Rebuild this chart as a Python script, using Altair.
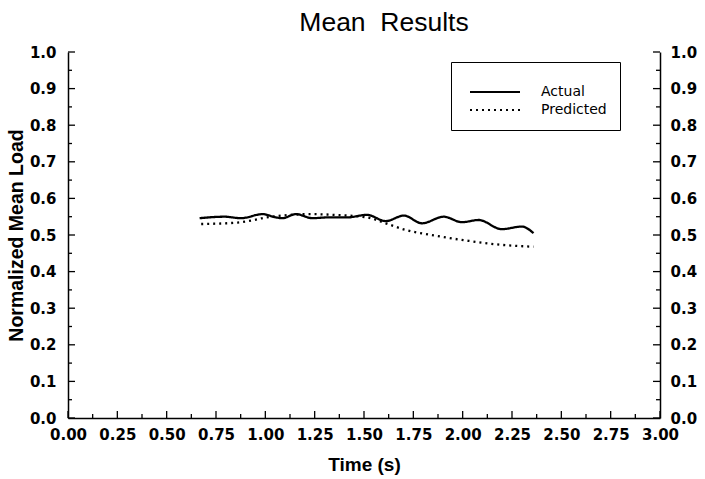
import altair as alt
import pandas as pd

# Data
actual_t = [0.667, 0.793, 0.877, 0.986, 1.054, 1.086, 1.155, 1.239, 1.313, 1.414,
            1.515, 1.610, 1.702, 1.794, 1.904, 1.996, 2.081, 2.198, 2.300, 2.359]
actual_v = [0.546, 0.550, 0.546, 0.557, 0.548, 0.546, 0.557, 0.546, 0.548, 0.548,
            0.555, 0.538, 0.553, 0.532, 0.550, 0.535, 0.541, 0.516, 0.523, 0.505]
pred_t = [0.675, 0.860, 0.944, 0.995, 1.231, 1.348, 1.515, 1.610, 1.710, 1.862,
          2.030, 2.198, 2.359]
pred_v = [0.530, 0.534, 0.541, 0.547, 0.557, 0.555, 0.548, 0.532, 0.514, 0.498,
          0.484, 0.473, 0.468]

x_major = [i * 0.25 for i in range(13)]
x_minor = [0.125 + i * 0.25 for i in range(12)]
y_major = [i / 10 for i in range(11)]
y_minor = [0.05 + i / 10 for i in range(10)]

series_names = ["Actual", "Predicted"]

df = pd.DataFrame(
    {"time": actual_t + pred_t,
     "load": actual_v + pred_v,
     "series": [series_names[0]] * len(actual_t) + [series_names[1]] * len(pred_t)}
)

W, H = 592, 366
TICK_FONT = "DejaVu Sans"
X_SCALE = alt.Scale(domain=[0, 3], nice=False, zero=False)
Y_SCALE = alt.Scale(domain=[0, 1], nice=False)

x_axis = alt.Axis(
    values=x_major, format=".2f", labelOverlap=False, labelFlush=False, ticks=False,
    labelPadding=9,
    labelFont=TICK_FONT, labelFontWeight="bold", labelFontSize=15, labelColor="black",
    title="Time (s)", titleFont="Liberation Sans", titleFontSize=19, titleFontWeight="bold",
    titleColor="black", titlePadding=13,
    grid=False, domainColor="black", domainWidth=1.5,
)

y_left_axis = alt.Axis(
    orient="left", values=y_major, format=".1f", labelOverlap=False, ticks=False,
    labelPadding=12,
    labelFont=TICK_FONT, labelFontWeight="bold", labelFontSize=15, labelColor="black",
    title="Normalized Mean Load", titleFont="Liberation Sans", titleFontSize=19.5,
    titleFontWeight="bold", titleColor="black", titlePadding=3,
    grid=False, domainColor="black", domainWidth=1.5,
)

y_right_axis = alt.Axis(
    orient="right", values=y_major, format=".1f", labelOverlap=False, ticks=False,
    labelPadding=10,
    labelFont=TICK_FONT, labelFontWeight="bold", labelFontSize=15, labelColor="black",
    title=None, grid=False, domainColor="black", domainWidth=1.5,
)

lines = alt.Chart(df).mark_line(interpolate="monotone", strokeWidth=2.3, color="black").encode(
    x=alt.X("time:Q", scale=X_SCALE, axis=x_axis, title="Time (s)"),
    y=alt.Y("load:Q", scale=Y_SCALE, axis=y_left_axis),
    strokeDash=alt.StrokeDash(
        "series:N",
        scale=alt.Scale(domain=series_names, range=[[1, 0], [2, 4]]),
        legend=alt.Legend(
            title="\u00a0", titleFontSize=5, titlePadding=5,
            orient="none", legendX=383, legendY=10,
            symbolType="M-0.2,0H9.8", symbolSize=100, symbolStrokeWidth=2,
            symbolStrokeColor="black", symbolFillColor="transparent",
            labelFont=TICK_FONT, labelFontSize=14,
            labelColor="black", labelOffset=63, rowPadding=4, padding=13,
            strokeColor="black",
        ),
    ),
    detail="series:N",
)

right = alt.Chart(df).mark_line(opacity=0).encode(
    x=alt.X("time:Q", scale=X_SCALE, axis=x_axis, title="Time (s)"),
    y=alt.Y("load:Q", scale=Y_SCALE, axis=y_right_axis),
    detail="series:N",
)

# inward tick marks, placed through the scales
def x_ticks(vals, length):
    return alt.Chart(pd.DataFrame({"time": vals})).mark_rule(color="black", strokeWidth=1.3).encode(
        x=alt.X("time:Q", scale=X_SCALE, axis=x_axis, title="Time (s)"),
        y=alt.value(H), y2=alt.value(H - length))

def y_ticks(vals, x0, x1):
    return alt.Chart(pd.DataFrame({"v": vals})).mark_rule(color="black", strokeWidth=1.3).encode(
        y=alt.Y("v:Q", scale=Y_SCALE, axis=None), x=alt.value(x0), x2=alt.value(x1))

ticks = [
    x_ticks(x_major, 7), x_ticks(x_minor, 4),
    y_ticks(y_major, 0, 7), y_ticks(y_minor, 0, 4),
    y_ticks(y_major, W, W - 7), y_ticks(y_minor, W, W - 4),
]

chart = alt.layer(lines, right, *ticks).resolve_scale(y="independent").properties(
    width=W,
    height=H,
    background="white",
    title=alt.TitleParams("Mean\u00a0 Results", font="Liberation Sans", fontSize=26.5,
                          fontWeight="normal", color="black", anchor="middle",
                          dx=20, offset=9),
    autosize=alt.AutoSizeParams(type="none"),
    padding={"left": 68, "top": 52, "right": 45, "bottom": 61},
).configure_view(strokeWidth=0, stroke="transparent")

chart.save("out.html", embed_options={"renderer": "svg", "actions": False})
